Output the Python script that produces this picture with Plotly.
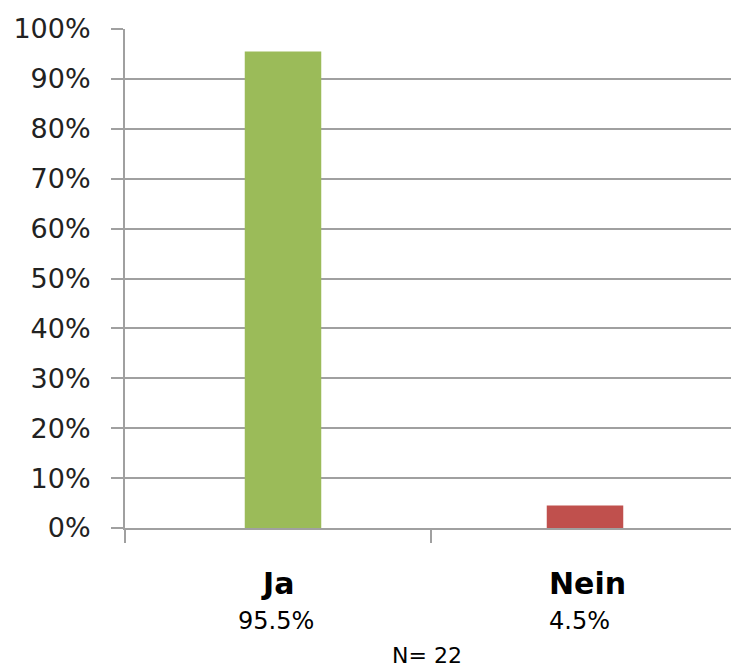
import plotly.graph_objects as go

categories = ["Ja", "Nein"]
values = [0.955, 0.045]
value_labels = ["95.5%", "4.5%"]
colors = ["#9BBB59", "#C0504D"]
n_label = "N= 22"

FONT = "DejaVu Sans"
GRID = "#a0a0a0"
CAT_PX = 306

fig = go.Figure()
fig.add_trace(go.Bar(
    x=categories, y=values, marker=dict(color=colors, line=dict(width=0)),
    width=0.25, offset=[-0.125 + 5 / CAT_PX, -0.125 + 1 / CAT_PX], hoverinfo="skip",
))

annotations = []
xshifts = [-1, -37]
anchors = ["center", "left"]
for i, (c, v) in enumerate(zip(categories, value_labels)):
    annotations.append(dict(x=c, y=0, xref="x", yref="paper", text=f"<b>{c}</b>",
                            showarrow=False, xanchor=anchors[i], yanchor="middle",
                            xshift=xshifts[i], yshift=-55,
                            font=dict(family=FONT, size=30, color="#000")))
    annotations.append(dict(x=c, y=0, xref="x", yref="paper", text=v,
                            showarrow=False, xanchor=anchors[i], yanchor="middle",
                            xshift=xshifts[i] - (1 if i == 0 else 0), yshift=-93,
                            font=dict(family=FONT, size=24, color="#000")))
annotations.append(dict(x=(426.5 - 125) / 606, y=0, xref="paper", yref="paper", text=n_label,
                        showarrow=False, xanchor="center", yanchor="middle", yshift=-127,
                        borderpad=0,
                        font=dict(family=FONT, size=22, color="#000")))

fig.update_layout(
    width=731, height=669,
    margin=dict(l=125, r=0, t=29, b=141),
    paper_bgcolor="white", plot_bgcolor="white",
    showlegend=False,
    annotations=annotations,
    xaxis=dict(
        range=[-0.5, 1.5 - 6 / CAT_PX], type="category",
        showticklabels=False, showgrid=False, zeroline=False,
        showline=True, linecolor=GRID, linewidth=2,
        ticks="outside", tickson="boundaries", ticklen=13, tickwidth=2, tickcolor=GRID,
    ),
    yaxis=dict(
        range=[0, 1], dtick=0.1, tick0=0, tickformat=".0%",
        showgrid=True, gridcolor=GRID, gridwidth=2,
        zeroline=False, showline=True, linecolor=GRID, linewidth=2,
        ticks="outside", ticklen=12, tickwidth=2, tickcolor=GRID,
        ticklabelstandoff=15,
        tickfont=dict(family=FONT, size=27, color="#222"),
    ),
)

fig.write_html("out.html")
